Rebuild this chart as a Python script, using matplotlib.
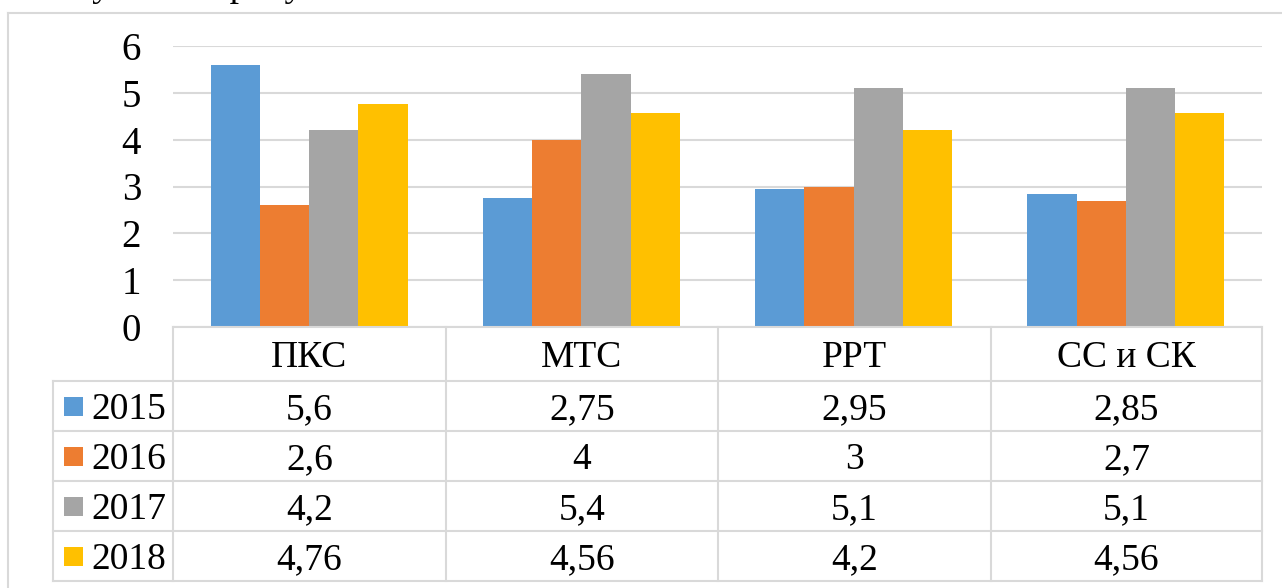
import matplotlib
matplotlib.use("Agg")
import matplotlib.pyplot as plt
from matplotlib.patches import Rectangle
from matplotlib.lines import Line2D

categories = ["ПКС", "МТС", "РРТ", "СС и СК"]
series_names = ["2015", "2016", "2017", "2018"]
v2015 = [5.6, 2.75, 2.95, 2.85]
v2016 = [2.6, 4, 3, 2.7]
v2017 = [4.2, 5.4, 5.1, 5.1]
v2018 = [4.76, 4.56, 4.2, 4.56]
labels2015 = ["5,6", "2,75", "2,95", "2,85"]
labels2016 = ["2,6", "4", "3", "2,7"]
labels2017 = ["4,2", "5,4", "5,1", "5,1"]
labels2018 = ["4,76", "4,56", "4,2", "4,56"]
yticks = [0, 1, 2, 3, 4, 5, 6]

series = [v2015, v2016, v2017, v2018]
labels = [labels2015, labels2016, labels2017, labels2018]
colors = ["#5B9BD5", "#ED7D31", "#A5A5A5", "#FFC000"]

W, H = 1282, 588
plt.rcParams['font.family'] = ['Liberation Serif', 'DejaVu Serif']
fig = plt.figure(figsize=(W / 100, H / 100), dpi=100)

def fx(px):
    return px / W

def fy(py):
    return 1 - py / H

grid_c = "#d9d9d9"

# outer chart frame (clipped at right and bottom)
fig.add_artist(Line2D([fx(7.5), fx(7.5)], [fy(12.5), fy(600)], color=grid_c, lw=1.5))
fig.add_artist(Line2D([fx(7.5), fx(1300)], [fy(12.5), fy(12.5)], color=grid_c, lw=1.5))

# caption line above the chart, cut off by the top edge as in the reference
fig.text(fx(68), fy(-4), "Сумма на рисунке", fontsize=27, ha="left", va="baseline",
         color="black")

x0, x1 = 173, 1262
y0, y6 = 327, 46
ax = fig.add_axes([fx(x0), fy(y0), fx(x1) - fx(x0), fy(y6) - fy(y0)])
ax.set_xlim(0, len(categories))
ax.set_ylim(0, 6)
bw = 0.181
for i, (vals, c) in enumerate(zip(series, colors)):
    xs = [k + 0.5 + (i - 1.5) * bw for k in range(len(categories))]
    ax.bar(xs, vals, width=bw, color=c, zorder=3, linewidth=0)
ax.set_yticks(yticks)
ax.set_yticklabels([str(t) for t in yticks], fontsize=28)
ax.tick_params(axis="y", length=0, pad=23)
ax.set_xticks([])
ax.yaxis.grid(True, color=grid_c, lw=1.5, zorder=0)
for s in ax.spines.values():
    s.set_visible(False)
ax.set_facecolor("none")

# data table
col_x = [173, 446, 718, 991, 1262]
row_y = [327, 381, 431, 481, 531, 581]
leg_x = 53

def hline(xa, xb, y):
    fig.add_artist(Line2D([fx(xa), fx(xb)], [fy(y), fy(y)], color=grid_c, lw=1.5))

def vline(x, ya, yb):
    fig.add_artist(Line2D([fx(x), fx(x)], [fy(ya), fy(yb)], color=grid_c, lw=1.5))

hline(col_x[0], col_x[-1], row_y[0])
for y in row_y[1:]:
    hline(leg_x, col_x[-1], y)
for x in col_x:
    vline(x, row_y[0], row_y[-1])
vline(leg_x, row_y[1], row_y[-1])

for j, cat in enumerate(categories):
    cx = (col_x[j] + col_x[j + 1]) / 2
    cy = (row_y[0] + row_y[1]) / 2
    fig.text(fx(cx), fy(cy), cat, fontsize=27, ha="center", va="center_baseline")

for i, name in enumerate(series_names):
    cy = (row_y[i + 1] + row_y[i + 2]) / 2
    sq = 19
    fig.add_artist(Rectangle((fx(64), fy(cy + sq / 2)), fx(sq), sq / H,
                             facecolor=colors[i], edgecolor="none"))
    fig.text(fx(91), fy(cy), name, fontsize=27, ha="left", va="center_baseline")
    for j in range(len(categories)):
        cx = (col_x[j] + col_x[j + 1]) / 2
        fig.text(fx(cx), fy(cy), labels[i][j], fontsize=27, ha="center",
                 va="center_baseline")

fig.savefig("out.png", dpi=100)
